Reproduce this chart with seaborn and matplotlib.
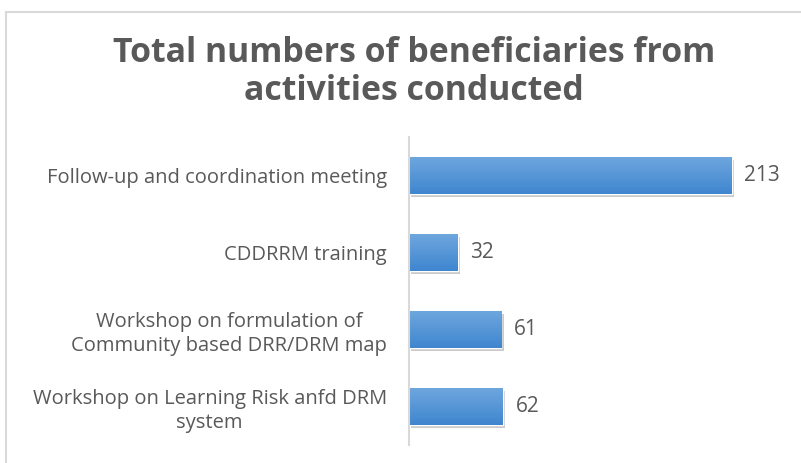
import numpy as np
import pandas as pd
import matplotlib
matplotlib.use("Agg")
import matplotlib.pyplot as plt
import matplotlib.patheffects as pe
from matplotlib.patches import Rectangle
import seaborn as sns

categories = [
    "Follow-up and coordination meeting",
    "CDDRRM training",
    "Workshop on formulation of\nCommunity based DRR/DRM map",
    "Workshop on Learning Risk anfd DRM\nsystem",
]
values = [213, 32, 61, 62]
title = "Total numbers of beneficiaries from\nactivities conducted"

df = pd.DataFrame({"activity": categories, "beneficiaries": values})

sns.set_theme(style="white")
plt.rcParams["font.family"] = ["Open Sans", "DejaVu Sans"]
text_col = "#595959"

W, H = 801, 463
fig = plt.figure(figsize=(W / 100, H / 100), dpi=100)
ax = fig.add_axes([409 / W, 18 / H, 379 / W, 308 / H])

sns.barplot(data=df, x="beneficiaries", y="activity", orient="h",
            color="#4a8fd6", width=0.48, ax=ax, saturation=1)

xmax = 250
ax.set_xlim(0, xmax)
ax.set_ylim(3.5, -0.5)

# gradient fill + shadow on each bar
grad = np.linspace(0, 1, 64).reshape(-1, 1)
cmap = matplotlib.colors.LinearSegmentedColormap.from_list("g", ["#6ea6de", "#3f86cf"])
for p in ax.patches:
    p.set_path_effects([pe.withSimplePatchShadow(offset=(1.5, -2), shadow_rgbFace="#555555", alpha=0.3)])
    x0, y0 = p.get_x(), p.get_y()
    w, h = p.get_width(), p.get_height()
    im = ax.imshow(grad, extent=(x0, x0 + w, y0 + h, y0), cmap=cmap, aspect="auto",
                   origin="upper", zorder=p.get_zorder() + 0.1)
    im.set_clip_path(p)
ax.set_xlim(0, xmax)
ax.set_ylim(3.5, -0.5)

# value labels
for i, v in enumerate(values):
    ax.annotate(str(v), xy=(v, i), xytext=(9, 0), textcoords="offset points",
                va="center", ha="left", fontsize=15, color=text_col)

ax.set_xlabel("")
ax.set_ylabel("")
ax.set_xticks([])
for s in ["top", "right", "bottom"]:
    ax.spines[s].set_visible(False)
ax.spines["left"].set_color("#d9d9d9")
ax.spines["left"].set_linewidth(1.5)
ax.tick_params(axis="y", length=0, pad=16, labelsize=14.5, labelcolor=text_col)
for lab in ax.get_yticklabels():
    lab.set_multialignment("center")
    lab.set_linespacing(1.25)

fig.text(414 / W, 1 - 36 / H, title, ha="center", va="top", fontsize=24.4,
         fontweight="bold", color=text_col, linespacing=1.14)

fig.patches.append(Rectangle((6 / W, -0.1), 1.2, 1 - 12 / H + 0.1, transform=fig.transFigure,
                             fill=False, edgecolor="#d9d9d9", linewidth=1.5))

fig.savefig("out.png", dpi=100)
